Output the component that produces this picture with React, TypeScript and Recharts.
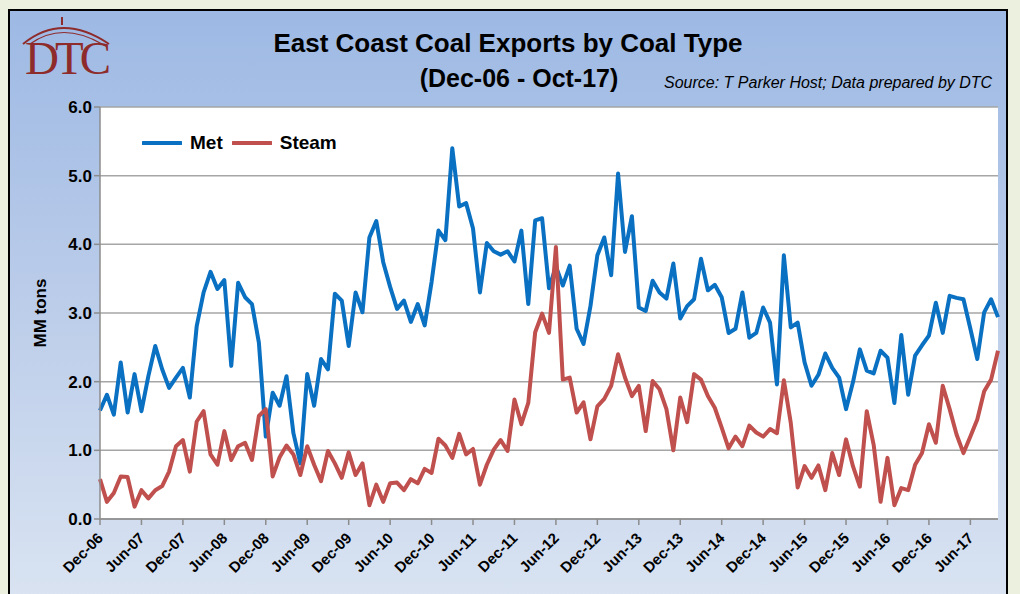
import React from 'react';
import { LineChart, Line, XAxis, YAxis, CartesianGrid, Legend } from 'recharts';

const FONT = "'Liberation Sans', Arial, sans-serif";

const MONTH_NAMES = ['Jan', 'Feb', 'Mar', 'Apr', 'May', 'Jun', 'Jul', 'Aug', 'Sep', 'Oct', 'Nov', 'Dec'];

// Dec-06 .. Oct-17, monthly
const months: string[] = [];
for (let y = 2006, m = 11; y < 2017 || (y === 2017 && m <= 9); ) {
    months.push(`${MONTH_NAMES[m]}-${String(y % 100).padStart(2, '0')}`);
    m++;
    if (m === 12) { m = 0; y++; }
}

const metValues = [
    1.58, 1.81, 1.52, 2.28, 1.55, 2.11, 1.57, 2.08, 2.52, 2.18, 1.91,
    2.06, 2.2, 1.77, 2.81, 3.3, 3.6, 3.35, 3.48, 2.23, 3.44,
    3.23, 3.13, 2.57, 1.2, 1.84, 1.65, 2.08, 1.25, 0.81, 2.11,
    1.65, 2.33, 2.18, 3.28, 3.18, 2.52, 3.3, 3.01, 4.1, 4.34,
    3.74, 3.38, 3.06, 3.18, 2.87, 3.13, 2.82, 3.45, 4.2, 4.06,
    5.4, 4.55, 4.6, 4.23, 3.3, 4.02, 3.9, 3.85, 3.9, 3.75,
    4.2, 3.13, 4.35, 4.38, 3.36, 3.68, 3.4, 3.69, 2.77, 2.55,
    3.1, 3.84, 4.1, 3.55, 5.03, 3.89, 4.41, 3.08, 3.03, 3.47,
    3.3, 3.21, 3.72, 2.92, 3.1, 3.2, 3.79, 3.33, 3.41, 3.23,
    2.71, 2.77, 3.3, 2.64, 2.71, 3.08, 2.86, 1.96, 3.84, 2.79,
    2.86, 2.28, 1.94, 2.1, 2.41, 2.2, 2.06, 1.6, 1.99, 2.47,
    2.16, 2.12, 2.45, 2.35, 1.69, 2.68, 1.81, 2.38, 2.53, 2.67,
    3.15, 2.71, 3.25, 3.22, 3.2, 2.77, 2.33, 3.01, 3.2, 2.94,
];

const steamValues = [
    0.58, 0.25, 0.38, 0.62, 0.61, 0.18, 0.42, 0.3, 0.42, 0.48, 0.69,
    1.06, 1.15, 0.69, 1.42, 1.57, 0.94, 0.79, 1.28, 0.86, 1.06,
    1.11, 0.86, 1.5, 1.6, 0.62, 0.9, 1.07, 0.94, 0.64, 1.06,
    0.79, 0.55, 0.99, 0.81, 0.6, 0.97, 0.64, 0.81, 0.2, 0.5,
    0.25, 0.52, 0.53, 0.42, 0.58, 0.52, 0.73, 0.67, 1.17, 1.07,
    0.89, 1.24, 0.94, 1.02, 0.5, 0.79, 1.01, 1.15, 0.99, 1.74,
    1.38, 1.69, 2.72, 2.99, 2.71, 3.96, 2.03, 2.06, 1.55, 1.7,
    1.16, 1.64, 1.75, 1.94, 2.4, 2.06, 1.79, 1.94, 1.28, 2.01,
    1.89, 1.6, 1.0, 1.77, 1.41, 2.11, 2.03, 1.79, 1.62, 1.33,
    1.03, 1.2, 1.06, 1.36, 1.26, 1.2, 1.31, 1.25, 2.02, 1.4,
    0.46, 0.77, 0.6, 0.78, 0.42, 0.96, 0.64, 1.16, 0.77, 0.47,
    1.57, 1.08, 0.25, 0.89, 0.2, 0.45, 0.42, 0.79, 0.96, 1.38,
    1.11, 1.94, 1.6, 1.23, 0.96, 1.2, 1.45, 1.86, 2.03, 2.45,
];

const yTicks = [0, 1, 2, 3, 4, 5, 6];

const SERIES = [
    { key: 'met', name: 'Met', color: '#0a70c2' },
    { key: 'steam', name: 'Steam', color: '#c0504d' },
];

const data = months.map((month, i) => ({
    month,
    met: metValues[i],
    steam: steamValues[i],
}));

const XTick = ({ x, y, payload }: any) => (
    <g transform={`translate(${x + 4},${y + 12})`}>
        <text
            x={0}
            y={0}
            textAnchor="end"
            transform="rotate(-45)"
            fontFamily={FONT}
            fontWeight="bold"
            fontSize={15}
            fill="#000"
        >
            {payload.value}
        </text>
    </g>
);

const renderLegend = () => (
    <div style={{ display: 'flex', alignItems: 'center', fontFamily: FONT, fontWeight: 'bold', fontSize: 19, color: '#000' }}>
        {SERIES.map((s) => (
            <div key={s.key} style={{ display: 'flex', alignItems: 'center', marginRight: 9 }}>
                <svg width={40} height={6}>
                    <line x1={1} y1={3} x2={39} y2={3} stroke={s.color} strokeWidth={4} strokeLinecap="round" />
                </svg>
                <span style={{ marginLeft: 8 }}>{s.name}</span>
            </div>
        ))}
    </div>
);

const App: React.FC = () => {
    return (
        <div style={{ position: 'fixed', left: 0, top: 0, width: 1020, height: 594, background: '#ebf1de', overflow: 'hidden' }}>
            <div
                style={{
                    position: 'absolute',
                    left: 8,
                    top: 9,
                    width: 1000,
                    height: 600,
                    boxSizing: 'border-box',
                    border: '2px solid #000',
                    background: 'linear-gradient(180deg, #9db9e4 0%, #b9cbe9 45%, #dae4f2 100%)',
                }}
            />
            <div style={{ position: 'absolute', left: 0, top: 0 }}>
                <LineChart width={1020} height={594} data={data} margin={{ top: 107, right: 22, bottom: 0, left: 0 }}>
                    <CartesianGrid vertical={false} stroke="#a6a6a6" strokeWidth={1.5} fill="#ffffff" />
                    <XAxis
                        dataKey="month"
                        interval={5}
                        height={75}
                        tickSize={6}
                        tick={<XTick />}
                        axisLine={{ stroke: '#8c8c8c', strokeWidth: 1.5 }}
                        tickLine={{ stroke: '#8c8c8c', strokeWidth: 1.5 }}
                    />
                    <YAxis
                        width={100}
                        domain={[0, 6]}
                        ticks={yTicks}
                        tickSize={6}
                        tickFormatter={(v: number) => v.toFixed(1)}
                        tick={{ fontFamily: FONT, fontWeight: 'bold', fontSize: 17, fill: '#000' }}
                        axisLine={{ stroke: '#8c8c8c', strokeWidth: 1.5 }}
                        tickLine={{ stroke: '#8c8c8c', strokeWidth: 1.5 }}
                        label={{
                            value: 'MM tons',
                            angle: -90,
                            position: 'insideLeft',
                            offset: 40,
                            style: { textAnchor: 'middle', fontFamily: FONT, fontWeight: 'bold', fontSize: 17, fill: '#000' },
                        }}
                    />
                    <Legend
                        verticalAlign="middle"
                        align="center"
                        content={renderLegend}
                        wrapperStyle={{ left: 142, top: 132, width: 'auto', height: 'auto' }}
                    />
                    {SERIES.map((s) => (
                        <Line
                            key={s.key}
                            type="linear"
                            dataKey={s.key}
                            name={s.name}
                            stroke={s.color}
                            strokeWidth={4}
                            strokeLinejoin="round"
                            dot={false}
                            activeDot={false}
                            isAnimationActive={false}
                        />
                    ))}
                </LineChart>
            </div>
            <svg width={1020} height={100} style={{ position: 'absolute', left: 0, top: 0 }}>
                {/* DTC logo */}
                <path d="M23,44 Q62,12 109,44" fill="none" stroke="#8e2b2b" strokeWidth={2} />
                <path d="M30,44 Q62,21 102,44" fill="none" stroke="#8e2b2b" strokeWidth={1.2} />
                <line x1={62} y1={17} x2={62} y2={25} stroke="#8e2b2b" strokeWidth={2} />
                <text x={66} y={74} textAnchor="middle" fontFamily="'Liberation Serif', 'DejaVu Serif', serif" fontSize={47} letterSpacing={-4} fill="#8e2b2b">
                    DTC
                </text>
                <text x={508} y={52} textAnchor="middle" fontFamily={FONT} fontWeight="bold" fontSize={26} fill="#000">
                    East Coast Coal Exports by Coal Type
                </text>
                <text x={519} y={87} textAnchor="middle" fontFamily={FONT} fontWeight="bold" fontSize={25} fill="#000">
                    (Dec-06 - Oct-17)
                </text>
                <text x={664} y={88} fontFamily={FONT} fontStyle="italic" fontSize={16} fill="#000">
                    Source: T Parker Host; Data prepared by DTC
                </text>
            </svg>
        </div>
    );
};

export default App;
